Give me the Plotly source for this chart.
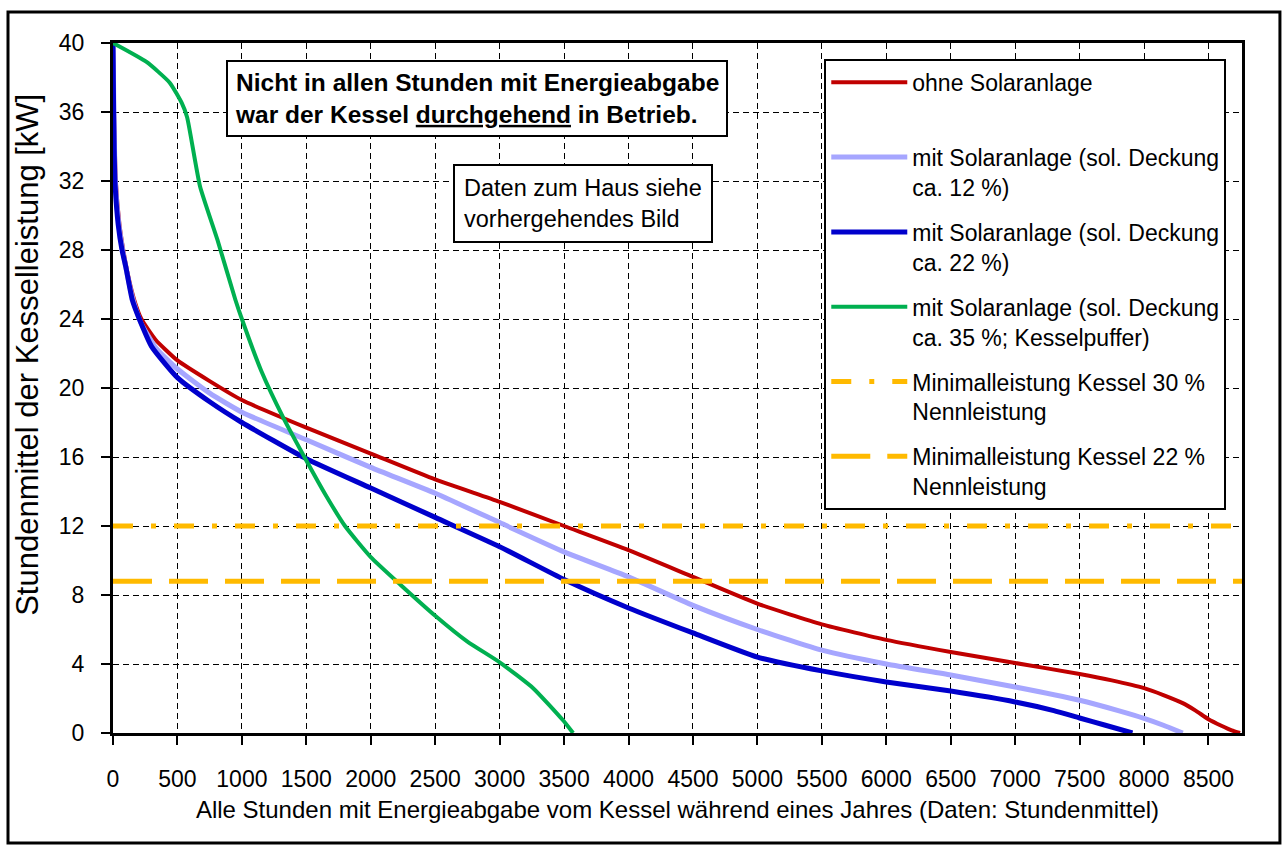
import plotly.graph_objects as go

# Sorted hourly boiler output (duration curves), hours vs. kW
h_ohne = [0, 8, 22, 50, 80, 115, 165, 220, 330, 500, 750, 1000, 1500, 2000, 2500,
          3000, 3500, 4000, 4500, 5000, 5500, 6000, 6500, 7000, 7500, 7750, 8000, 8150,
          8300, 8400, 8500, 8600, 8680, 8745]
p_ohne = [40, 36, 32, 29.5, 28, 26.6, 25.1, 24.0, 22.8, 21.6, 20.4, 19.3, 17.7, 16.2, 14.7,
          13.4, 12.0, 10.6, 9.05, 7.5, 6.3, 5.4, 4.7, 4.06, 3.42, 3.05, 2.6, 2.2,
          1.73, 1.3, 0.8, 0.42, 0.15, 0]

h_sol12 = [0, 7, 18, 45, 75, 110, 160, 215, 335, 500, 750, 1000, 1500, 2000, 2500,
           3000, 3500, 4000, 4500, 5000, 5500, 6000, 6500, 7000, 7500, 7800, 8000, 8150, 8300]
p_sol12 = [40, 36, 32, 29.5, 28, 26.6, 25.0, 23.8, 22.3, 21.1, 19.7, 18.6, 17.0, 15.4, 13.9,
           12.2, 10.5, 9.05, 7.4, 6.0, 4.8, 4.0, 3.36, 2.67, 1.9, 1.3, 0.85, 0.45, 0]

h_sol22 = [0, 5, 15, 40, 70, 100, 150, 210, 300, 500, 750, 1000, 1500, 2000, 2500,
           3000, 3500, 4000, 4500, 5000, 5500, 6000, 6500, 7000, 7300, 7500, 7700, 7910]
p_sol22 = [40, 36, 32, 29.5, 28, 27.0, 25.1, 23.9, 22.4, 20.6, 19.2, 18.0, 15.9, 14.2, 12.5,
           10.8, 8.9, 7.25, 5.8, 4.4, 3.6, 2.96, 2.43, 1.8, 1.3, 0.87, 0.45, 0]

h_sol35 = [0, 260, 440, 535, 575, 675, 810, 950, 1000, 1150, 1320, 1500, 1650, 1800,
           2000, 2230, 2500, 2750, 3000, 3260, 3490, 3570]
p_sol35 = [40, 38.9, 37.7, 36.5, 35.7, 31.7, 28.6, 25.1, 24.0, 21.0, 18.3, 15.8, 13.8, 12.0,
           10.2, 8.6, 6.8, 5.3, 4.1, 2.6, 0.75, 0]

# Boiler minimum output (30 % and 22 % of 40 kW nominal)
h_jahr = [0, 8760]
p_min30 = [12.0, 12.0]
p_min22 = [8.8, 8.8]

FONT = "Liberation Sans, Arial, sans-serif"
ORANGE = "#FFBA00"
TXT = dict(family=FONT, size=23, color="black")

fig = go.Figure()

curves = [
    (h_ohne, p_ohne, "ohne Solaranlage<br>\u00a0", "#C00000", 4),
    (h_sol12, p_sol12, "mit Solaranlage (sol. Deckung<br>ca. 12 %)", "#A6A6FF", 5),
    (h_sol22, p_sol22, "mit Solaranlage (sol. Deckung<br>ca. 22 %)", "#0000CC", 5),
    (h_sol35, p_sol35, "mit Solaranlage (sol. Deckung<br>ca. 35 %; Kesselpuffer)", "#00B050", 4),
]
for i, (hx, py, name, col, w) in enumerate(curves):
    fig.add_trace(go.Scatter(
        x=hx, y=py, name=name, mode="lines", legendgroup=f"g{i}",
        line=dict(color=col, width=w, shape="spline", smoothing=0.5),
    ))

fig.add_trace(go.Scatter(
    x=h_jahr, y=p_min30, mode="lines", legendgroup="g4",
    name="Minimalleistung Kessel 30 %<br>Nennleistung",
    line=dict(color=ORANGE, width=5, dash="20px,18px,5px,18px"),
))
fig.add_trace(go.Scatter(
    x=h_jahr, y=p_min22, mode="lines", legendgroup="g5",
    name="Minimalleistung Kessel 22 %<br>Nennleistung",
    line=dict(color=ORANGE, width=5, dash="39px,17px"),
))

axis_common = dict(
    showline=True, linecolor="black", linewidth=3, mirror=True,
    ticks="outside", ticklen=9, tickwidth=2, tickcolor="black",
    showgrid=True, gridcolor="black", gridwidth=1.4, griddash="6px,4px",
    zeroline=False, tickfont=TXT, tickangle=0,
)

fig.update_xaxes(
    range=[0, 8760], tick0=0, dtick=500, ticklabelstandoff=14, **axis_common,
    title=dict(text="Alle Stunden mit Energieabgabe vom Kessel während eines Jahres (Daten: Stundenmittel)",
               font=dict(family=FONT, size=24, color="black"), standoff=11),
)
fig.update_yaxes(range=[0, 40], tick0=0, dtick=4, ticklabelstandoff=12, **axis_common)

# y axis title, placed as rotated text
fig.add_annotation(
    xref="paper", yref="paper", x=-0.0753, y=0.548, xanchor="center", yanchor="middle",
    text="Stundenmittel der Kesselleistung [kW]", textangle=-90, showarrow=False,
    font=dict(family=FONT, size=31, color="black"),
)

fig.add_annotation(
    xref="paper", yref="paper", x=0.322, y=0.9196, xanchor="center", yanchor="middle",
    text="<b>Nicht in allen Stunden mit Energieabgabe<br>war der Kessel <u>durchgehend</u> in Betrieb.</b>",
    showarrow=False, align="left", bgcolor="white", bordercolor="black", borderwidth=2,
    borderpad=7, font=dict(family=FONT, size=24.5, color="black"),
)
fig.add_annotation(
    xref="paper", yref="paper", x=0.4167, y=0.7674, xanchor="center", yanchor="middle",
    text="Daten zum Haus siehe<br>vorhergehendes Bild",
    showarrow=False, align="left", bgcolor="white", bordercolor="black", borderwidth=2,
    borderpad=9, font=dict(family=FONT, size=23.5, color="black"),
)

# outer frame around the whole graphic
fig.add_shape(type="rect", xref="paper", yref="paper",
              x0=-0.0930, x1=1.0336, y0=-0.1594, y1=1.0449,
              line=dict(color="black", width=3))

fig.update_layout(
    width=1284, height=850,
    margin=dict(l=113, r=42, t=43, b=117),
    paper_bgcolor="white", plot_bgcolor="white",
    font=TXT,
    showlegend=True,
    legend=dict(
        x=0.630, y=0.977, xanchor="left", yanchor="top",
        bgcolor="white", bordercolor="black", borderwidth=2,
        font=TXT, valign="top", itemwidth=76, tracegroupgap=12,
    ),
)

fig.write_html("out.html")
